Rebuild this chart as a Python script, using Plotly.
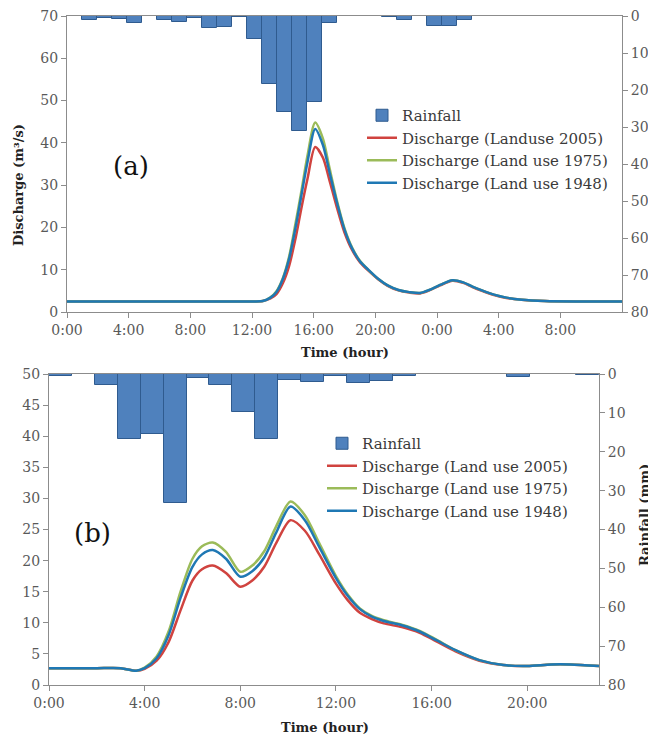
import plotly.graph_objects as go

# ---------------- Panel (a) data ----------------
time_a = [0, 6, 12.0, 12.7, 13.2, 13.6, 14.0, 14.4, 14.8, 15.2, 15.6, 16.1, 16.6, 17.0, 17.5,
          18.0, 18.5, 19.0, 19.6, 20.2, 20.8, 21.5, 22.2, 22.9, 23.5, 24.2, 25.0, 25.7, 26.3,
          27.0, 27.7, 28.5, 29.5, 31.0, 33.0, 36.0]
q2005_a = [2.5, 2.5, 2.5, 2.6, 3.2, 4.3, 6.8, 10.8, 17.0, 24.5, 31.5, 39.0, 36.5, 31.5, 24.8,
           18.8, 14.6, 11.8, 9.6, 7.7, 6.2, 5.1, 4.6, 4.4, 5.1, 6.3, 7.4, 6.9, 5.9,
           4.9, 4.0, 3.3, 2.9, 2.6, 2.5, 2.5]
q1975_a = [2.5, 2.5, 2.5, 2.6, 3.5, 5.0, 8.0, 13.0, 20.5, 28.5, 37.0, 44.8, 41.0, 34.5, 26.5,
           19.8, 15.2, 12.1, 9.8, 7.8, 6.3, 5.2, 4.7, 4.5, 5.2, 6.4, 7.5, 7.0, 6.0,
           5.0, 4.1, 3.4, 2.9, 2.6, 2.5, 2.5]
q1948_a = [2.5, 2.5, 2.5, 2.6, 3.4, 4.8, 7.8, 12.5, 19.5, 27.5, 35.5, 43.3, 39.5, 33.5, 26.0,
           19.5, 15.0, 12.0, 9.8, 7.8, 6.3, 5.2, 4.7, 4.5, 5.2, 6.4, 7.5, 7.0, 6.0,
           5.0, 4.1, 3.4, 2.9, 2.6, 2.5, 2.5]
rain_a = [0, 1.1, 0.5, 0.8, 1.9, 0, 1.1, 1.7, 0.6, 3.3, 2.9, 0.3, 6.3, 18.5, 26.0, 31.0, 23.2,
          2.0, 0, 0, 0, 0.3, 1.2, 0, 2.7, 2.7, 1.0, 0, 0, 0, 0, 0, 0, 0, 0, 0, 0]
rain_a_idx = list(range(len(rain_a)))
ticks_a = [0, 4, 8, 12, 16, 20, 24, 28, 32]
ticklabels_a = ["0:00", "4:00", "8:00", "12:00", "16:00", "20:00", "0:00", "4:00", "8:00"]

# ---------------- Panel (b) data ----------------
time_b = [0, 1, 2, 3.0, 3.65, 4.0, 4.5, 5.0, 5.5, 6.0, 6.4, 6.85, 7.4, 8.0, 8.5, 9.0, 9.5,
          10.1, 10.7, 11.3, 12.0, 12.5, 13.0, 13.5, 14.0, 14.75, 15.5, 16.2, 17.0, 18.0,
          19.0, 20.0, 21.0, 21.8, 23.0]
q2005_b = [2.7, 2.7, 2.7, 2.7, 2.3, 2.6, 3.9, 6.9, 12.0, 16.8, 18.6, 19.2, 18.0, 15.8, 16.8,
           19.0, 22.8, 26.5, 24.8, 21.0, 16.3, 13.6, 11.6, 10.6, 9.9, 9.3, 8.4, 7.0, 5.4,
           3.9, 3.2, 3.05, 3.3, 3.3, 3.05]
q1975_b = [2.7, 2.7, 2.7, 2.7, 2.3, 2.8, 4.6, 8.6, 15.0, 20.3, 22.3, 22.9, 21.4, 18.2, 19.2,
           21.5, 25.5, 29.5, 27.3, 22.8, 17.5, 14.5, 12.3, 11.1, 10.4, 9.7, 8.7, 7.3, 5.6,
           4.0, 3.2, 3.05, 3.3, 3.3, 3.05]
q1948_b = [2.7, 2.7, 2.7, 2.7, 2.3, 2.7, 4.3, 8.0, 14.0, 19.0, 21.0, 21.7, 20.3, 17.4, 18.3,
           20.5, 24.5, 28.7, 26.5, 22.2, 17.2, 14.3, 12.2, 11.0, 10.3, 9.6, 8.6, 7.2, 5.6,
           4.0, 3.2, 3.05, 3.3, 3.3, 3.05]
rain_b = [0.4, 0, 2.8, 16.7, 15.4, 33.2, 1.1, 2.7, 9.9, 16.8, 1.5, 2.1, 0.5, 2.4, 1.9, 0.5,
          0, 0, 0, 0, 0.7, 0, 0, 0.3]
rain_b_idx = list(range(len(rain_b)))
ticks_b = [0, 4, 8, 12, 16, 20]
ticklabels_b = ["0:00", "4:00", "8:00", "12:00", "16:00", "20:00"]

# ---------------- styling ----------------
OFF = 8  # default page body margin
W, H = 656 - OFF, 736 - OFF
FONT = "DejaVu Serif"
BAR = "#4F81BD"
BAR_LINE = "#2F5B8F"
RED = "#D0433F"
GREEN = "#9BBB59"
BLUE = "#1F78B4"
AX = "#8C8C8C"
TICKC = "#595959"


def px_x(v):
    return (v - OFF) / W


def px_y(v):
    return 1 - (v - OFF) / H


dom_a_x = [px_x(67), px_x(622)]
dom_a_y = [px_y(312), px_y(16)]
dom_b_x = [px_x(49), px_x(599)]
dom_b_y = [px_y(685), px_y(374)]

fig = go.Figure()

# Panel (a)
fig.add_trace(go.Bar(x=rain_a_idx, y=rain_a, name="Rainfall", xaxis="x", yaxis="y",
                     marker=dict(color=BAR, line=dict(color=BAR_LINE, width=1)),
                     width=1.0, legend="legend"))
for name, ys, col in [("Discharge (Landuse 2005)", q2005_a, RED),
                      ("Discharge (Land use 1975)", q1975_a, GREEN),
                      ("Discharge (Land use 1948)", q1948_a, BLUE)]:
    fig.add_trace(go.Scatter(x=time_a, y=ys, name=name, mode="lines", xaxis="x2", yaxis="y2",
                             line=dict(color=col, width=2.5, shape="spline", smoothing=0.8),
                             legend="legend"))

# Panel (b)
fig.add_trace(go.Bar(x=rain_b_idx, y=rain_b, name="Rainfall", xaxis="x3", yaxis="y3",
                     marker=dict(color=BAR, line=dict(color=BAR_LINE, width=1)),
                     width=1.0, legend="legend2"))
for name, ys, col in [("Discharge (Land use 2005)", q2005_b, RED),
                      ("Discharge (Land use 1975)", q1975_b, GREEN),
                      ("Discharge (Land use 1948)", q1948_b, BLUE)]:
    fig.add_trace(go.Scatter(x=time_b, y=ys, name=name, mode="lines", xaxis="x4", yaxis="y4",
                             line=dict(color=col, width=2.5, shape="spline", smoothing=0.8),
                             legend="legend2"))

tickfont = dict(family=FONT, size=14, color=TICKC)
common = dict(showgrid=False, zeroline=False, showline=True, linecolor=AX, linewidth=1,
              automargin=False)
tickstyle = dict(ticks="outside", ticklen=5, tickcolor=AX, tickfont=tickfont,
                 ticklabeloverflow="allow")

fig.update_layout(
    width=W, height=H,
    margin=dict(l=0, r=0, t=0, b=0, autoexpand=False),
    paper_bgcolor="white", plot_bgcolor="white",
    bargap=0,
    font=dict(family=FONT, size=14, color="#333333"),
    # ---- panel (a): bars (main) ----
    xaxis=dict(domain=dom_a_x, anchor="y", range=[-0.5, len(rain_a) - 0.5],
               showticklabels=False, ticks="", side="top", **common),
    yaxis=dict(domain=dom_a_y, anchor="x", side="right", range=[80, 0], dtick=10,
               **common, **tickstyle),
    # ---- panel (a): lines ----
    xaxis2=dict(overlaying="x", anchor="y2", range=[0, 36], tickvals=ticks_a,
                ticktext=ticklabels_a, side="bottom", **common, **tickstyle),
    yaxis2=dict(overlaying="y", anchor="x2", side="left", range=[0, 70], dtick=10,
                **common, **tickstyle),
    # ---- panel (b): bars (main) ----
    xaxis3=dict(domain=dom_b_x, anchor="y3", range=[-0.5, len(rain_b) - 0.5],
                showticklabels=False, ticks="", side="top", **common),
    yaxis3=dict(domain=dom_b_y, anchor="x3", side="right", range=[80, 0], dtick=10,
                **common, **tickstyle),
    # ---- panel (b): lines ----
    xaxis4=dict(overlaying="x3", anchor="y4", range=[0, 23], tickvals=ticks_b,
                ticktext=ticklabels_b, side="bottom", **common, **tickstyle),
    yaxis4=dict(overlaying="y3", anchor="x4", side="left", range=[0, 50], dtick=5,
                **common, **tickstyle),
    legend=dict(x=px_x(362), y=px_y(99), xanchor="left", yanchor="top",
                bgcolor="rgba(0,0,0,0)", font=dict(family=FONT, size=15, color="#3a3a3a"),
                tracegroupgap=0, itemwidth=30),
    legend2=dict(x=px_x(322), y=px_y(427), xanchor="left", yanchor="top",
                 bgcolor="rgba(0,0,0,0)", font=dict(family=FONT, size=15, color="#3a3a3a"),
                 tracegroupgap=0, itemwidth=30),
    showlegend=True,
)

ann_common = dict(xref="paper", yref="paper", showarrow=False, xanchor="center",
                  yanchor="middle")
annotations = [
    dict(text="(a)", x=px_x(131), y=px_y(166),
         font=dict(family=FONT, size=26, color="#111111"), **ann_common),
    dict(text="(b)", x=px_x(92), y=px_y(533),
         font=dict(family=FONT, size=26, color="#111111"), **ann_common),
    dict(text="<b>Time (hour)</b>", x=px_x(345), y=px_y(352),
         font=dict(family=FONT, size=13, color="#222222"), **ann_common),
    dict(text="<b>Time (hour)</b>", x=px_x(325), y=px_y(727),
         font=dict(family=FONT, size=13, color="#222222"), **ann_common),
    dict(text="<b>Discharge (m³/s)</b>", x=px_x(18), y=px_y(185), textangle=-90,
         font=dict(family=FONT, size=13, color="#222222"), **ann_common),
    dict(text="<b>Rainfall (mm)</b>", x=px_x(644), y=px_y(515), textangle=-90,
         font=dict(family=FONT, size=13, color="#222222"), **ann_common),
]
fig.update_layout(annotations=annotations)

fig.write_html("out.html")
